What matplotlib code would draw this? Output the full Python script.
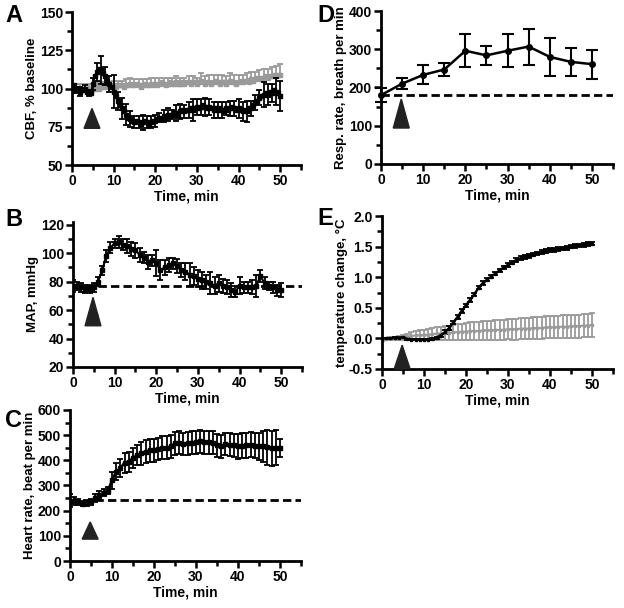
import numpy as np
import matplotlib
matplotlib.use('Agg')
import matplotlib.pyplot as plt
from matplotlib.patches import Polygon
from matplotlib.ticker import MultipleLocator

plt.rcParams['font.family'] = ['Liberation Sans', 'DejaVu Sans']
plt.rcParams['font.weight'] = 'bold'
plt.rcParams['axes.labelweight'] = 'bold'

# ---- data ----
# A: CBF, % baseline (0.5 min steps)
t_half = np.arange(0, 50.5, 0.5)
cbf_drug = [100, 102, 99, 100, 98, 99, 100, 98, 97, 97,
            103, 108, 111, 113, 112, 110, 108, 105, 103, 101,
            98, 95, 92, 89, 87, 85, 83, 81, 80, 79,
            78, 79, 78, 77, 78, 79, 78, 77, 78, 79,
            79, 80, 81, 80, 82, 81, 83, 82, 83, 84,
            84, 83, 85, 86, 85, 86, 86, 87, 86, 87,
            88, 87, 88, 89, 88, 87, 88, 87, 86, 87,
            86, 87, 86, 85, 87, 86, 87, 88, 87, 86,
            87, 86, 85, 86, 85, 87, 87, 89, 91, 92,
            94, 95, 96, 97, 96, 98, 97, 99, 98, 97, 95]
cbf_drug_err = [3, 2, 3, 2, 2, 4, 6, 9, 6, 5,
                11, 6, 7, 7, 5, 4, 4, 5, 4, 4,
                4, 3, 4, 4, 3, 5, 5, 4, 5, 7,
                5, 5, 6, 5, 5, 5, 5, 4, 5, 5,
                6, 6, 7, 5, 5, 5, 8, 7, 6, 9, 10]
cbf_ctrl = [100, 100, 100, 100, 100, 100, 100, 100, 100, 100,
            100, 100, 101, 100, 101, 101, 101, 102, 101, 102,
            102, 101, 102, 102, 102, 101, 102, 102, 103, 102,
            102, 103, 102, 101, 102, 103, 102, 102, 103, 102,
            103, 102, 103, 104, 103, 102, 103, 104, 103, 103,
            104, 103, 103, 104, 103, 104, 104, 103, 104, 104,
            103, 104, 105, 104, 103, 104, 104, 103, 104, 105,
            104, 103, 104, 104, 103, 104, 105, 104, 104, 103,
            104, 105, 104, 105, 105, 104, 106, 105, 106, 107,
            106, 107, 107, 108, 107, 108, 108, 109, 108, 109, 109]
cbf_ctrl_err = [3, 3, 3, 3, 3, 3, 3, 3, 3, 3, 3, 3, 3, 4, 4, 4, 4, 4, 4, 4,
                4, 4, 4, 4, 4, 4, 4, 4, 4, 4, 4, 5, 5, 5, 5, 5, 5, 5, 5, 5,
                5, 5, 5, 5, 5, 6, 6, 6, 6, 7, 7]

# B: MAP, mmHg (1 min steps)
t_min = np.arange(0, 51, 1)
map_val = [77, 77, 76, 75, 75, 76, 80, 88, 98, 104,
           107, 108, 106, 105, 103, 102, 99, 97, 94, 95,
           93, 88, 90, 92, 93, 91, 88, 87, 85, 84,
           82, 81, 80, 79, 77, 79, 77, 76, 74, 73,
           77, 76, 76, 76, 77, 84, 79, 77, 76, 74, 74]
map_err = [4, 3, 3, 3, 3, 3, 3, 3, 4, 4,
           3, 4, 4, 5, 5, 5, 5, 4, 5, 4,
           9, 7, 5, 5, 4, 5, 5, 6, 8, 6,
           6, 6, 5, 8, 6, 6, 5, 5, 5, 4,
           6, 4, 4, 5, 8, 4, 4, 3, 4, 4, 5]
map_base = 77

# C: heart rate, beat per min (1 min steps)
hr_val = [240, 238, 235, 228, 230, 235, 250, 262, 272, 280,
          320, 355, 370, 390, 395, 410, 420, 428, 435, 440,
          440, 445, 450, 450, 455, 468, 470, 465, 468, 470,
          472, 475, 472, 472, 470, 460, 455, 465, 462, 460,
          455, 458, 460, 462, 458, 455, 455, 452, 448, 450, 450]
hr_err = [25, 15, 12, 10, 10, 12, 15, 15, 15, 15,
          35, 35, 35, 40, 40, 40, 40, 45, 45, 45,
          45, 45, 45, 45, 45, 45, 45, 45, 45, 45,
          45, 45, 45, 45, 45, 45, 45, 45, 45, 45,
          50, 50, 50, 50, 50, 55, 60, 70, 70, 70, 35]
hr_base = 242

# D: respiration rate, breath per min (5 min steps)
t_resp = [0, 5, 10, 15, 20, 25, 30, 35, 40, 45, 50]
resp_val = [180, 210, 233, 247, 296, 284, 296, 307, 280, 267, 261]
resp_err = [18, 14, 25, 17, 43, 24, 43, 47, 49, 36, 38]
resp_base = 180

# E: temperature change, degC (1 min steps)
temp_drug = [0.0, 0.0, 0.0, 0.01, 0.01, 0.02, -0.01, -0.02, -0.02, -0.02,
             -0.02, -0.02, -0.01, 0.01, 0.05, 0.10, 0.17, 0.26, 0.35, 0.45,
             0.54, 0.63, 0.72, 0.83, 0.90, 0.96, 1.01, 1.06, 1.11, 1.16,
             1.20, 1.24, 1.28, 1.31, 1.33, 1.35, 1.37, 1.39, 1.41, 1.43,
             1.44, 1.45, 1.46, 1.47, 1.48, 1.50, 1.51, 1.52, 1.53, 1.54, 1.55]
temp_drug_err = [0.01, 0.01, 0.01, 0.01, 0.01, 0.01, 0.01, 0.01, 0.01, 0.01,
                 0.01, 0.01, 0.01, 0.02, 0.02, 0.03, 0.03, 0.03, 0.03, 0.03,
                 0.03, 0.03, 0.03, 0.03, 0.03, 0.03, 0.03, 0.03, 0.03, 0.03,
                 0.03, 0.03, 0.03, 0.03, 0.03, 0.03, 0.03, 0.03, 0.03, 0.03,
                 0.03, 0.03, 0.03, 0.03, 0.03, 0.03, 0.03, 0.03, 0.03, 0.03, 0.03]
temp_ctrl = [-0.02, -0.01, 0.0, 0.0, 0.01,
             0.02, 0.03, 0.04, 0.05, 0.05, 0.06, 0.06, 0.07, 0.08, 0.08,
             0.09, 0.09, 0.10, 0.10, 0.11, 0.11, 0.12, 0.12, 0.12, 0.13,
             0.13, 0.13, 0.14, 0.14, 0.14, 0.15, 0.15, 0.15, 0.16, 0.16,
             0.16, 0.17, 0.17, 0.17, 0.18, 0.18, 0.18, 0.19, 0.19, 0.19,
             0.20, 0.20, 0.20, 0.21, 0.21, 0.22]
temp_ctrl_err = [0.02, 0.02, 0.02, 0.02, 0.03,
                 0.04, 0.05, 0.06, 0.07, 0.08, 0.08, 0.09, 0.10, 0.10, 0.11,
                 0.11, 0.12, 0.12, 0.13, 0.13, 0.14, 0.14, 0.14, 0.15, 0.15,
                 0.15, 0.15, 0.16, 0.16, 0.16, 0.16, 0.17, 0.17, 0.17, 0.17,
                 0.17, 0.18, 0.18, 0.18, 0.18, 0.18, 0.18, 0.18, 0.19, 0.19,
                 0.19, 0.19, 0.19, 0.19, 0.19, 0.19]

injection_time = 4.8
GRAY = '#9a9a9a'


def style_axis(ax, ylim, major, minor, ylabel):
    ax.set_xlim(0, 55)
    ax.set_ylim(*ylim)
    ax.xaxis.set_major_locator(MultipleLocator(10))
    ax.xaxis.set_minor_locator(MultipleLocator(5))
    ax.yaxis.set_major_locator(MultipleLocator(major))
    ax.yaxis.set_minor_locator(MultipleLocator(minor))
    for s in ['top', 'right']:
        ax.spines[s].set_visible(False)
    for s in ['left', 'bottom']:
        ax.spines[s].set_linewidth(2)
    ax.tick_params(which='major', length=5, width=1.8, labelsize=10, pad=1.5)
    ax.tick_params(which='minor', length=3.5, width=1.8)
    for lab in ax.get_xticklabels() + ax.get_yticklabels():
        lab.set_fontweight('bold')
    ax.set_xlabel('Time, min', fontsize=10, labelpad=1)
    ax.set_ylabel(ylabel, fontsize=9.5, labelpad=1)


def arrow(ax, base, tip, half=1.9):
    tri = Polygon([[injection_time - half, base], [injection_time + half, base],
                   [injection_time, tip]], closed=True, color='#222222',
                  zorder=5, clip_on=False)
    ax.add_patch(tri)


fig = plt.figure(figsize=(6.24, 6.08), dpi=100)

# ---- A ----
axA = fig.add_axes([0.1154, 0.7286, 0.367, 0.2516])
axA.errorbar(t_half[::2], cbf_ctrl[::2], yerr=[np.zeros(51), cbf_ctrl_err],
             fmt='none', ecolor=GRAY, elinewidth=1.3, capsize=2.5, capthick=1.3)
axA.plot(t_half, cbf_ctrl, 's-', color=GRAY, ms=2.5, lw=1.5)
axA.errorbar(t_half[::2], cbf_drug[::2], yerr=cbf_drug_err, fmt='none',
             ecolor='black', elinewidth=1.3, capsize=2.5, capthick=1.3)
axA.plot(t_half, cbf_drug, 's-', color='black', ms=2.5, lw=1.2)
arrow(axA, 74, 87)
style_axis(axA, (50, 150), 25, 12.5, 'CBF, % baseline')

# ---- B ----
axB = fig.add_axes([0.117, 0.3964, 0.367, 0.2385])
axB.plot([0, 55], [map_base, map_base], color='black', lw=2, dashes=(3, 1.5))
axB.errorbar(t_min, map_val, yerr=map_err, fmt='s-', color='black', ms=2.5,
             lw=1.5, elinewidth=1.3, capsize=2.5, capthick=1.3)
arrow(axB, 49, 69)
style_axis(axB, (20, 122), 20, 10, 'MAP, mmHg')

# ---- C ----
axC = fig.add_axes([0.1122, 0.0773, 0.370, 0.2484])
axC.plot([0, 55], [hr_base, hr_base], color='black', lw=2, dashes=(3, 1.5))
axC.errorbar(t_min, hr_val, yerr=hr_err, fmt='s-', color='black', ms=2.5,
             lw=1.8, elinewidth=1.3, capsize=2.5, capthick=1.3)
arrow(axC, 87, 155)
style_axis(axC, (0, 600), 100, 50, 'Heart rate, beat per min')

# ---- D ----
axD = fig.add_axes([0.6106, 0.7303, 0.3718, 0.2516])
axD.plot([0, 55], [resp_base, resp_base], color='black', lw=2, dashes=(3, 1.5))
axD.errorbar(t_resp, resp_val, yerr=resp_err, fmt='o-', color='black', ms=4,
             lw=1.8, elinewidth=1.5, capsize=4, capthick=1.5, clip_on=False)
arrow(axD, 94, 170)
style_axis(axD, (0, 400), 100, 50, 'Resp. rate, breath per min')

# ---- E ----
axE = fig.add_axes([0.6122, 0.3931, 0.370, 0.2516])
axE.errorbar(t_min, temp_ctrl, yerr=temp_ctrl_err, fmt='s-', color=GRAY,
             ms=2, lw=1.5, elinewidth=1.3, capsize=2.5, capthick=1.3)
axE.errorbar(t_min, temp_drug, yerr=temp_drug_err, fmt='s-', color='black',
             ms=2, lw=1.8, elinewidth=1.3, capsize=2.5, capthick=1.3)
arrow(axE, -0.5, -0.11)
style_axis(axE, (-0.5, 2.0), 0.5, 0.25, 'temperature change, °C')
axE.yaxis.set_major_formatter(plt.FormatStrFormatter('%.1f'))

# ---- panel letters ----
for letter, x, y in [('A', 0.008, 0.955), ('B', 0.008, 0.62), ('C', 0.008, 0.29),
                     ('D', 0.508, 0.955), ('E', 0.508, 0.622)]:
    fig.text(x, y, letter, fontsize=17, fontweight='bold', ha='left', va='bottom')

plt.savefig('out.png', dpi=100, facecolor='white')
